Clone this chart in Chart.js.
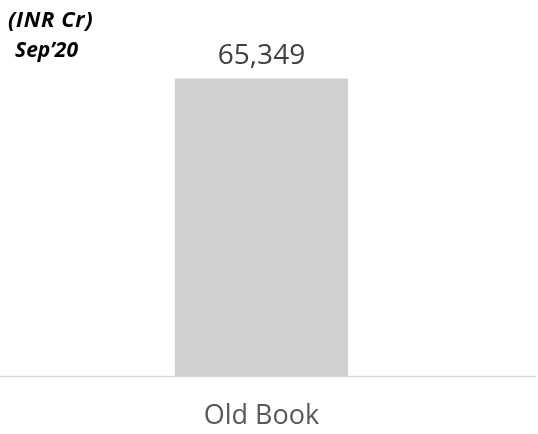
<!DOCTYPE html>
<html>
<head>
<meta charset="utf-8">
<script src="https://cdn.jsdelivr.net/npm/chart.js@4"></script>
<style>
  html, body { margin: 0; padding: 0; background: #fff; }
  #wrap { position: relative; width: 538px; height: 434px; }
  canvas { position: absolute; left: 0; top: 0; }
  .unit { position: absolute; font-family: "Open Sans", sans-serif; font-weight: bold; font-style: italic;
          font-size: 21px; color: #000; line-height: 1; white-space: nowrap; }
</style>
</head>
<body>
<div id="wrap">
  <canvas id="c" width="538" height="434"></canvas>
  <div class="unit" style="left:8px; top:7px; font-size:22px; letter-spacing:0.6px;">(INR Cr)</div>
  <div class="unit" style="left:15px; top:39px;">Sep’20</div>
</div>
<script>
const categories = ['Old Book'];
const values = [65349];
const axisMax = 76000;

// value above each bar, plus the baseline running across the full width
const valueLabels = {
  id: 'valueLabels',
  beforeDatasetsDraw(chart) {
    const ctx = chart.ctx;
    const y0 = chart.scales.y.getPixelForValue(0);
    ctx.save();
    ctx.strokeStyle = '#d9d9d9';
    ctx.lineWidth = 1.5;
    ctx.beginPath();
    ctx.moveTo(0, y0);
    ctx.lineTo(536, y0);
    ctx.stroke();
    ctx.restore();
  },
  afterDatasetsDraw(chart) {
    const ctx = chart.ctx;
    const meta = chart.getDatasetMeta(0);
    ctx.save();
    ctx.font = '28px "Open Sans", sans-serif';
    ctx.fillStyle = '#404040';
    ctx.textAlign = 'center';
    ctx.textBaseline = 'alphabetic';
    meta.data.forEach((bar, i) => {
      ctx.fillText(values[i].toLocaleString('en-US'), bar.x, bar.y - 15);
    });
    ctx.restore();
  }
};

new Chart(document.getElementById('c').getContext('2d'), {
  type: 'bar',
  data: {
    labels: categories,
    datasets: [{
      data: values,
      backgroundColor: '#d0d0d0',
      borderWidth: 0,
      barPercentage: 0.331,
      categoryPercentage: 1,
    }],
  },
  options: {
    responsive: false,
    animation: false,
    devicePixelRatio: 1,
    layout: { padding: { top: 30, left: 0, right: 15, bottom: -23 } },
    plugins: { legend: { display: false }, tooltip: { enabled: false } },
    scales: {
      x: {
        grid: { display: false, drawTicks: false },
        border: { display: false },
        ticks: { color: '#595959', padding: 24, font: { family: 'Open Sans', size: 27 } },
      },
      y: { display: false, min: 0, max: axisMax },
    },
  },
  plugins: [valueLabels],
});
</script>
</body>
</html>
